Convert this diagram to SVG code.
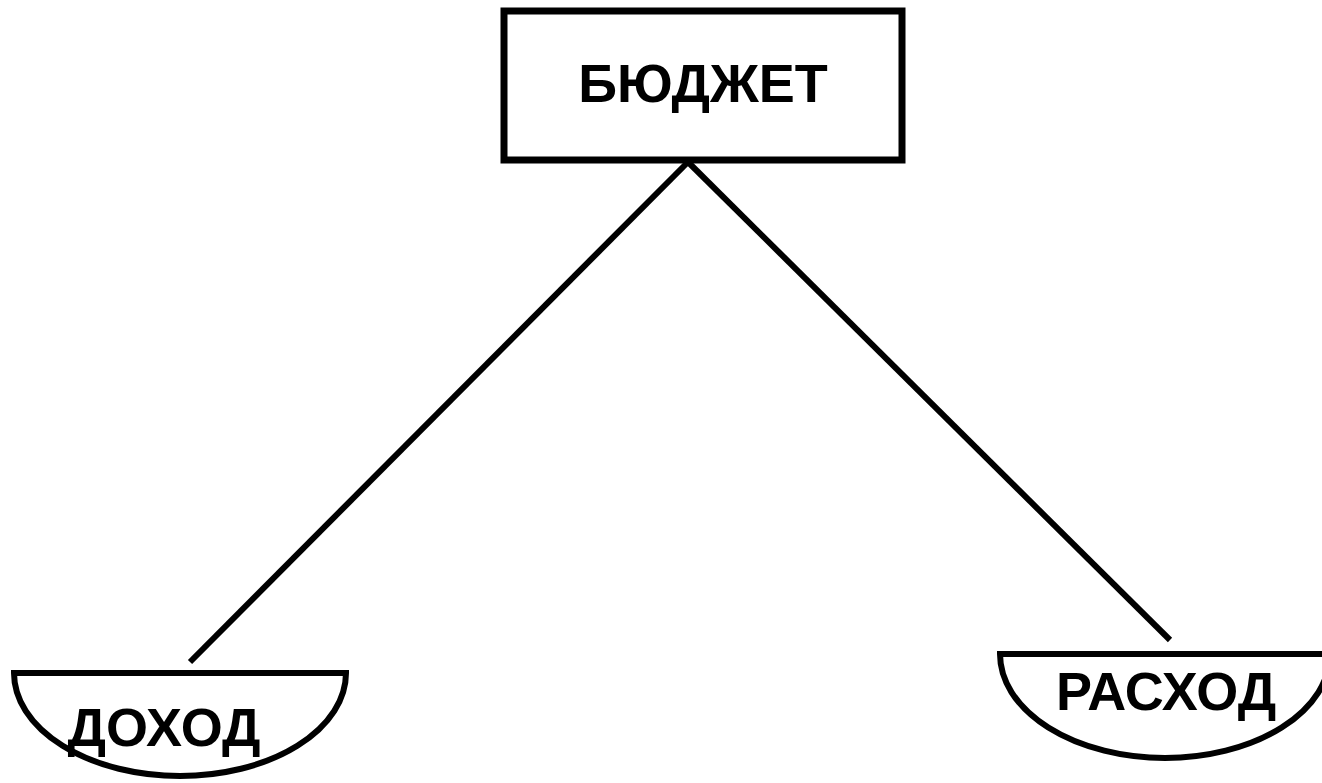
<svg xmlns="http://www.w3.org/2000/svg" width="1322" height="783" viewBox="0 0 1322 783">
<style>
.s{fill:none;stroke:#000;stroke-width:6}
.t{font-family:"Liberation Sans",Arial,sans-serif;font-weight:bold;font-size:54px;fill:#000}
</style>
<rect width="1322" height="783" fill="#fff"/>
<g id="connectors">
<line class="s" x1="688" y1="162" x2="190" y2="662"/>
<line class="s" x1="688" y1="162" x2="1170" y2="640"/>
</g>
<g id="budget">
<rect x="504" y="11" width="398" height="149" fill="#fff" stroke="#000" stroke-width="7"/>
<text class="t" x="703" y="102" text-anchor="middle">БЮДЖЕТ</text>
</g>
<g id="income">
<path class="s" d="M14,673 H346 A166,103 0 0 1 14,673 Z" fill="#fff"/>
<text class="t" x="164" y="746" text-anchor="middle">ДОХОД</text>
</g>
<g id="expense">
<path class="s" d="M1000,654 H1330 A165,104 0 0 1 1000,654 Z" fill="#fff"/>
<text class="t" x="1166" y="710" text-anchor="middle">РАСХОД</text>
</g>
</svg>
